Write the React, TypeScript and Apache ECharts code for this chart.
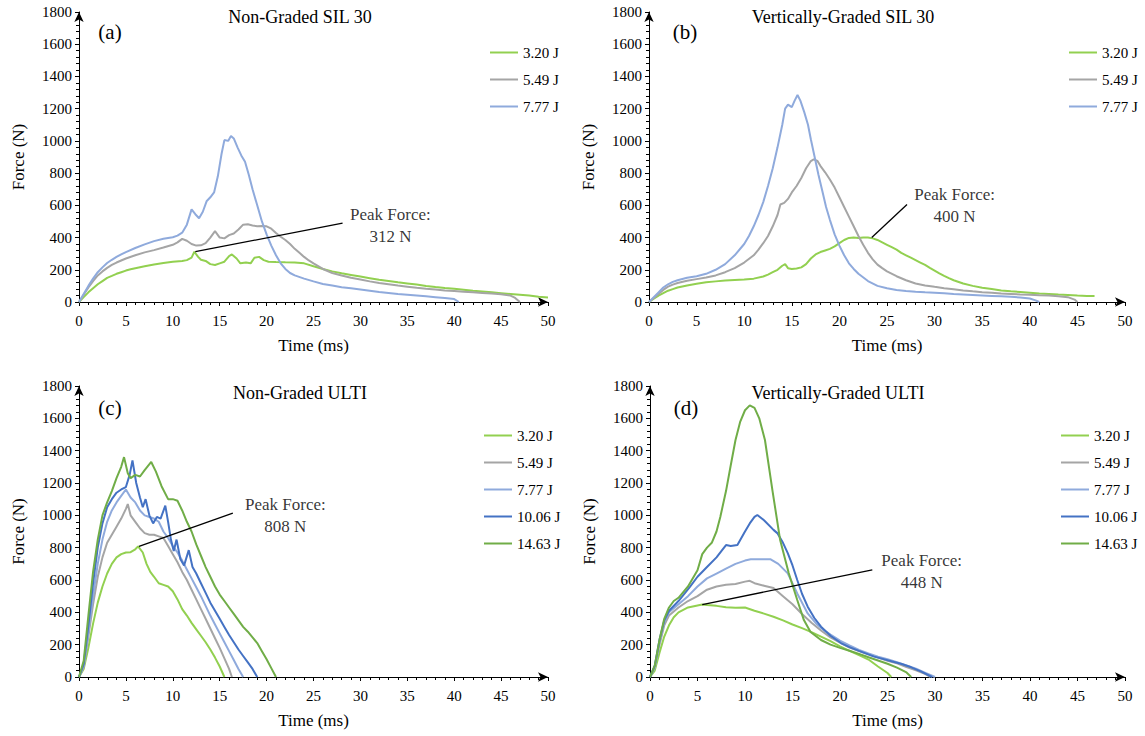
import React, { useEffect, useRef } from "react";
import * as echarts from "echarts";

type P = [number, number][];

const FONT = "'Liberation Serif', 'Times New Roman', 'DejaVu Serif', serif";
const GREEN_L = "#92D050";
const GRAY = "#A5A5A5";
const BLUE_L = "#8FAADC";
const BLUE_D = "#4472C4";
const GREEN_D = "#70AD47";

const energies3 = ["3.20 J", "5.49 J", "7.77 J"];
const energies5 = ["3.20 J", "5.49 J", "7.77 J", "10.06 J", "14.63 J"];
const titles = ["Non-Graded SIL 30", "Vertically-Graded SIL 30", "Non-Graded ULTI", "Vertically-Graded ULTI"];
const panelLetters = ["(a)", "(b)", "(c)", "(d)"];
const peakLabels = ["Peak Force:\n312 N", "Peak Force:\n400 N", "Peak Force:\n808 N", "Peak Force:\n448 N"];

// ---------- Panel (a) Non-Graded SIL 30 ----------
const a320: P = [[0,0],[0.5,30],[1,60],[1.5,85],[2,110],[2.5,130],[3,150],[3.5,162],[4,175],[4.5,185],[5,195],[5.5,203],[6,210],[7,222],[8,233],[9,242],[10,250],[11,255],[11.5,260],[12,275],[12.3,312],[12.7,280],[13,262],[13.5,255],[14,235],[14.5,230],[15,240],[15.5,250],[16,285],[16.3,295],[16.8,270],[17.2,240],[17.8,245],[18.3,240],[18.7,275],[19.2,280],[19.7,260],[20.2,250],[21,248],[22,246],[23,245],[24,240],[25,222],[26,205],[27,190],[28,178],[29,168],[30,158],[31,148],[32,138],[33,130],[34,122],[35,115],[36,108],[37,100],[38,93],[39,87],[40,82],[41,76],[42,70],[43,65],[44,60],[45,55],[46,50],[47,45],[48,40],[49,33],[50,28]];
const a549: P = [[0,0],[0.5,45],[1,90],[1.5,130],[2,165],[2.5,190],[3,212],[3.5,230],[4,245],[5,270],[6,290],[7,308],[8,322],[9,338],[10,355],[10.5,370],[11,392],[11.5,380],[12,360],[12.5,350],[13,352],[13.5,365],[14,400],[14.5,440],[15,400],[15.5,395],[16,415],[16.5,425],[17,450],[17.5,480],[18,482],[18.5,475],[19,470],[19.5,472],[20,470],[20.5,455],[21,428],[21.5,405],[22,385],[22.5,360],[23,330],[23.5,305],[24,280],[24.5,258],[25,240],[26,205],[27,180],[28,165],[29,150],[30,140],[31,128],[32,118],[33,110],[34,102],[35,95],[36,88],[37,82],[38,77],[39,72],[40,68],[41,64],[42,60],[43,56],[44,52],[45,48],[46,40],[46.5,25],[47,0]];
const a777: P = [[0,0],[0.5,50],[1,100],[1.5,145],[2,185],[2.5,215],[3,242],[3.5,262],[4,280],[4.5,296],[5,310],[6,335],[7,358],[8,378],[9,392],[10,402],[10.5,412],[11,430],[11.5,480],[12,575],[12.4,545],[12.8,520],[13.2,560],[13.6,625],[14,650],[14.4,680],[14.8,780],[15.2,920],[15.5,1005],[15.9,1000],[16.2,1030],[16.5,1015],[16.9,960],[17.3,910],[17.7,870],[18.1,790],[18.5,700],[19,600],[19.5,500],[20,420],[20.5,350],[21,290],[21.5,240],[22,205],[22.5,180],[23,165],[24,145],[25,128],[26,112],[27,102],[28,92],[29,85],[30,78],[31,70],[32,62],[33,56],[34,50],[35,45],[36,40],[37,35],[38,30],[39,25],[40,18],[40.5,0]];

// ---------- Panel (b) Vertically-Graded SIL 30 ----------
const b320: P = [[0,0],[0.5,20],[1,40],[1.5,55],[2,70],[2.5,80],[3,90],[4,103],[5,113],[6,122],[7,128],[8,133],[9,137],[10,140],[11,145],[12,158],[12.5,170],[13,185],[13.5,200],[14,225],[14.3,235],[14.6,210],[15,205],[15.5,208],[16,215],[16.5,235],[17,270],[17.5,295],[18,310],[18.5,320],[19,330],[19.5,345],[20,365],[20.5,385],[21,398],[21.5,400],[22,398],[22.5,400],[23,400],[23.5,395],[24,385],[24.5,370],[25,355],[25.5,340],[26,325],[26.5,305],[27,290],[27.5,275],[28,260],[28.5,245],[29,230],[29.5,212],[30,195],[30.5,178],[31,162],[31.5,148],[32,135],[33,115],[34,100],[35,88],[36,80],[37,72],[38,66],[39,62],[40,58],[41,53],[42,50],[43,46],[44,43],[45,40],[46,38],[46.8,38]];
const b549: P = [[0,0],[0.5,25],[1,50],[1.5,75],[2,95],[2.5,108],[3,118],[4,132],[5,142],[6,152],[7,165],[8,185],[9,210],[10,245],[11,290],[11.5,325],[12,365],[12.5,410],[13,470],[13.5,540],[13.8,605],[14.2,615],[14.6,640],[15,680],[15.5,720],[16,770],[16.5,830],[17,875],[17.3,885],[17.7,875],[18,845],[18.5,805],[19,760],[19.5,710],[20,650],[20.5,590],[21,530],[21.5,470],[22,410],[22.5,355],[23,305],[23.5,265],[24,232],[24.5,210],[25,190],[26,160],[27,135],[28,115],[29,103],[30,94],[31,86],[32,79],[33,72],[34,66],[35,61],[36,57],[37,53],[38,50],[39,47],[40,45],[41,42],[42,40],[43,36],[44,30],[44.7,15],[45,0]];
const b777: P = [[0,0],[0.5,30],[1,60],[1.5,90],[2,110],[2.5,125],[3,135],[4,150],[5,160],[6,175],[7,200],[8,235],[9,290],[10,360],[10.5,410],[11,470],[11.5,540],[12,620],[12.5,720],[13,830],[13.5,960],[14,1100],[14.3,1200],[14.6,1225],[15,1210],[15.3,1250],[15.6,1285],[15.9,1250],[16.3,1180],[16.7,1100],[17,1010],[17.4,900],[17.8,790],[18.2,690],[18.6,590],[19,510],[19.5,420],[20,350],[20.5,290],[21,240],[21.5,205],[22,175],[23,130],[24,100],[25,85],[26,75],[27,69],[28,64],[29,60],[30,57],[31,54],[32,50],[33,47],[34,44],[35,41],[36,38],[37,35],[38,32],[39,28],[40,22],[40.6,10],[41,0]];

// ---------- Panel (c) Non-Graded ULTI ----------
const c320: P = [[0,0],[0.5,50],[1,180],[1.5,330],[2,460],[2.5,560],[3,640],[3.5,700],[4,740],[4.5,760],[5,770],[5.5,772],[6,790],[6.3,808],[6.8,770],[7.2,700],[7.6,650],[8,620],[8.5,580],[9,570],[9.5,560],[10,530],[10.5,480],[11,420],[11.5,380],[12,335],[12.5,295],[13,255],[13.5,215],[14,170],[14.5,120],[15,65],[15.5,0]];
const c549: P = [[0,0],[0.5,60],[1,250],[1.5,450],[2,620],[2.5,740],[3,830],[3.5,880],[4,930],[4.5,980],[5,1040],[5.2,1070],[5.5,1000],[6,960],[6.5,920],[7,890],[7.5,880],[8,880],[8.5,870],[9,860],[9.5,810],[10,760],[10.5,710],[11,650],[11.5,600],[12,540],[12.5,480],[13,420],[13.5,360],[14,300],[14.5,240],[15,180],[15.5,115],[16,50],[16.3,0]];
const c777: P = [[0,0],[0.5,70],[1,280],[1.5,500],[2,700],[2.5,850],[3,960],[3.5,1030],[4,1080],[4.5,1120],[5,1160],[5.5,1110],[6,1080],[6.5,1030],[7,1000],[7.5,990],[8,980],[8.5,960],[9,900],[9.5,860],[10,810],[10.5,770],[11,720],[11.5,665],[12,610],[12.5,555],[13,500],[13.5,440],[14,380],[14.5,325],[15,270],[15.5,215],[16,160],[16.5,105],[17,50],[17.5,0]];
const c1006: P = [[0,0],[0.5,80],[1,320],[1.5,580],[2,800],[2.5,950],[3,1050],[3.5,1100],[4,1140],[4.5,1160],[5,1175],[5.4,1250],[5.7,1340],[6.1,1200],[6.5,1110],[6.8,1050],[7.1,1100],[7.5,1000],[7.9,950],[8.3,990],[8.7,980],[9.2,1060],[9.5,960],[9.8,850],[10.1,780],[10.4,850],[10.8,730],[11.2,690],[11.7,785],[12.1,680],[12.5,640],[13,580],[13.5,520],[14,460],[14.5,410],[15,360],[15.5,310],[16,260],[16.5,215],[17,170],[17.5,130],[18,90],[18.5,50],[19,0]];
const c1463: P = [[0,0],[0.5,100],[1,380],[1.5,650],[2,850],[2.5,1000],[3,1080],[3.5,1150],[4,1230],[4.5,1300],[4.8,1360],[5.2,1260],[5.5,1230],[6,1250],[6.5,1240],[7,1280],[7.7,1330],[8.2,1270],[8.8,1180],[9.5,1100],[10,1100],[10.5,1090],[11,1030],[11.5,960],[12,900],[12.5,820],[13,750],[13.5,680],[14,620],[14.5,560],[15,510],[15.5,470],[16,430],[16.5,390],[17,350],[17.5,310],[18,280],[18.5,245],[19,210],[19.5,160],[20,110],[20.5,55],[21,0]];

// ---------- Panel (d) Vertically-Graded ULTI ----------
const d320: P = [[0,0],[0.5,40],[1,150],[1.5,250],[2,320],[2.5,370],[3,400],[4,430],[5,442],[5.5,448],[6,445],[7,440],[8,432],[9,428],[10,430],[11,410],[12,392],[13,373],[14,350],[15,325],[16,302],[17,278],[18,250],[19,222],[20,190],[21,162],[22,135],[23,108],[24,65],[25,25],[25.4,0]];
const d549: P = [[0,0],[0.5,60],[1,200],[1.5,320],[2,380],[3,430],[4,470],[5,500],[6,540],[7,560],[8,570],[9,575],[10,590],[10.5,595],[11,580],[12,565],[13,550],[14,500],[15,450],[16,390],[17,335],[18,288],[19,245],[20,212],[21,182],[22,160],[23,140],[24,120],[25,100],[26,85],[27,62],[28,42],[29,18],[29.5,0]];
const d777: P = [[0,0],[0.5,60],[1,220],[1.5,340],[2,400],[3,450],[4,500],[5,560],[6,610],[7,640],[8,670],[9,700],[10,720],[10.6,728],[12.7,728],[13.5,700],[14.5,641],[15.5,517],[16.6,393],[17.5,330],[18.3,290],[19,262],[20,225],[21,195],[22,168],[23,146],[24,126],[25,110],[26,92],[27,72],[28,52],[29,26],[30,0]];
const d1006: P = [[0,0],[0.5,70],[1,230],[1.5,350],[2,410],[3,470],[4.2,558],[5,620],[6,680],[7,740],[8,816],[8.5,810],[9.2,816],[10,900],[10.5,950],[11,990],[11.3,1002],[12,970],[13,910],[13.4,890],[14,830],[14.5,766],[15,690],[15.5,600],[16,515],[16.6,435],[17.3,365],[18,311],[19,255],[20.1,210],[21,185],[22,162],[23.6,126],[24.5,112],[25.5,96],[26.5,80],[27.5,60],[28.5,35],[29.7,0]];
const d1463: P = [[0,0],[0.5,70],[1,230],[1.5,360],[2,430],[2.5,470],[3,490],[4,560],[5,660],[5.5,760],[6,800],[6.5,830],[7,900],[7.4,990],[8,1150],[8.5,1310],[9,1466],[9.5,1580],[10,1650],[10.5,1680],[11,1665],[11.5,1600],[12.1,1466],[12.9,1150],[13.7,847],[14.6,643],[15.5,476],[16.2,352],[16.9,278],[18,229],[19,200],[20,180],[21,162],[22,143],[23,122],[24,102],[25,82],[26,58],[27,28],[27.5,0]];

// annotation leader lines [from, to] and label anchor points
const leaderA: P = [[12.4, 312], [28.1, 490]];
const leaderB: P = [[23.4, 400], [27.1, 605]];
const leaderC: P = [[6.4, 808], [16.4, 1014]];
const leaderD: P = [[5.5, 448], [23.4, 662]];
const labelPts: P[] = [[[33.2, 472]], [[32.1, 600]], [[22.0, 1002]], [[28.6, 650]]];

const GRIDS = [
  { left: 79, top: 12, width: 469, height: 290 },
  { left: 649, top: 12, width: 476, height: 290 },
  { left: 79, top: 386, width: 469, height: 291 },
  { left: 650, top: 386, width: 475, height: 291 },
];

const panelSeries: { names: string[]; colors: string[]; data: P[] }[] = [
  { names: energies3, colors: [GREEN_L, GRAY, BLUE_L], data: [a320, a549, a777] },
  { names: energies3, colors: [GREEN_L, GRAY, BLUE_L], data: [b320, b549, b777] },
  { names: energies5, colors: [GREEN_L, GRAY, BLUE_L, BLUE_D, GREEN_D], data: [c320, c549, c777, c1006, c1463] },
  { names: energies5, colors: [GREEN_L, GRAY, BLUE_L, BLUE_D, GREEN_D], data: [d320, d549, d777, d1006, d1463] },
];
const leaders = [leaderA, leaderB, leaderC, leaderD];

const legendPos = [
  { left: 490, top: 45 },
  { left: 1069, top: 45 },
  { left: 484, top: 428 },
  { left: 1061, top: 428 },
];
const titlePos = [
  { x: 300, y: 8, lx: 110, ly: 21 },
  { x: 843, y: 8, lx: 685, ly: 21 },
  { x: 300, y: 384, lx: 110, ly: 397 },
  { x: 838, y: 384, lx: 686, ly: 397 },
];

const txt = { fontFamily: FONT, color: "#000" };

function buildOption() {
  const xAxis: any[] = [];
  const yAxis: any[] = [];
  const series: any[] = [];
  const legend: any[] = [];
  const title: any[] = [];

  GRIDS.forEach((_, gi) => {
    xAxis.push({
      type: "value", gridIndex: gi, min: 0, max: 50, interval: 5,
      name: "Time (ms)", nameLocation: "middle", nameGap: 35,
      nameTextStyle: { ...txt, fontSize: 17 },
      axisLine: { show: true, onZero: false, symbol: ["none", "arrow"], symbolSize: [7, 10], lineStyle: { color: "#000", width: 1 } },
      axisTick: { show: true, length: 4, lineStyle: { color: "#000" } },
      minorTick: { show: true, splitNumber: 5, length: 3, lineStyle: { color: "#000" } },
      axisLabel: { ...txt, fontSize: 15, margin: 11, formatter: (v: number) => String(v) },
      splitLine: { show: false },
    });
    yAxis.push({
      type: "value", gridIndex: gi, min: 0, max: 1800, interval: 200,
      name: "Force (N)", nameLocation: "middle", nameGap: 52,
      nameTextStyle: { ...txt, fontSize: 17 },
      axisLine: { show: true, onZero: false, symbol: ["none", "arrow"], symbolSize: [7, 10], lineStyle: { color: "#000", width: 1 } },
      axisTick: { show: true, length: 4, lineStyle: { color: "#000" } },
      minorTick: { show: true, splitNumber: 5, length: 3, lineStyle: { color: "#000" } },
      axisLabel: { ...txt, fontSize: 15, margin: 7, formatter: (v: number) => String(v) },
      splitLine: { show: false },
    });
    const ps = panelSeries[gi];
    ps.names.forEach((nm, i) => {
      series.push({
        type: "line", name: nm, xAxisIndex: gi, yAxisIndex: gi,
        data: ps.data[i], symbol: "none", smooth: false,
        lineStyle: { color: ps.colors[i], width: 2 }, itemStyle: { color: ps.colors[i] },
      });
    });
    series.push({
      type: "line", name: "leader" + gi, xAxisIndex: gi, yAxisIndex: gi,
      data: leaders[gi], symbol: "none", lineStyle: { color: "#000", width: 1.3 }, z: 5,
    });
    series.push({
      type: "scatter", name: "label" + gi, xAxisIndex: gi, yAxisIndex: gi,
      data: labelPts[gi], symbolSize: 1, itemStyle: { color: "rgba(0,0,0,0)" },
      label: { show: true, position: "inside", formatter: peakLabels[gi], ...txt, fontSize: 17, lineHeight: 22, align: "center" },
      z: 6,
    });
    legend.push({
      orient: "vertical", ...legendPos[gi], data: ps.names, icon: "rect",
      itemWidth: 28, itemHeight: 2, itemGap: 12, padding: 0,
      textStyle: { ...txt, fontSize: 15, lineHeight: 15 }, selectedMode: false,
    });
    const tp = titlePos[gi];
    title.push({ text: titles[gi], left: tp.x, top: tp.y, textAlign: "center", padding: 0, textStyle: { ...txt, fontSize: 18, fontWeight: "normal" } });
    title.push({ text: panelLetters[gi], left: tp.lx, top: tp.ly, textAlign: "center", padding: 0, textStyle: { ...txt, fontSize: 21, fontWeight: "normal" } });
  });

  return { animation: false, backgroundColor: "#fff", grid: GRIDS, xAxis, yAxis, series, legend, title };
}

export default function App() {
  const ref = useRef<HTMLDivElement>(null);
  useEffect(() => {
    if (!ref.current) return;
    const chart = echarts.init(ref.current, undefined, { renderer: "svg" });
    chart.setOption(buildOption() as any);
    return () => chart.dispose();
  }, []);
  return <div ref={ref} style={{ position: "fixed", left: 0, top: 0, width: 1145, height: 736, background: "#fff" }} />;
}
